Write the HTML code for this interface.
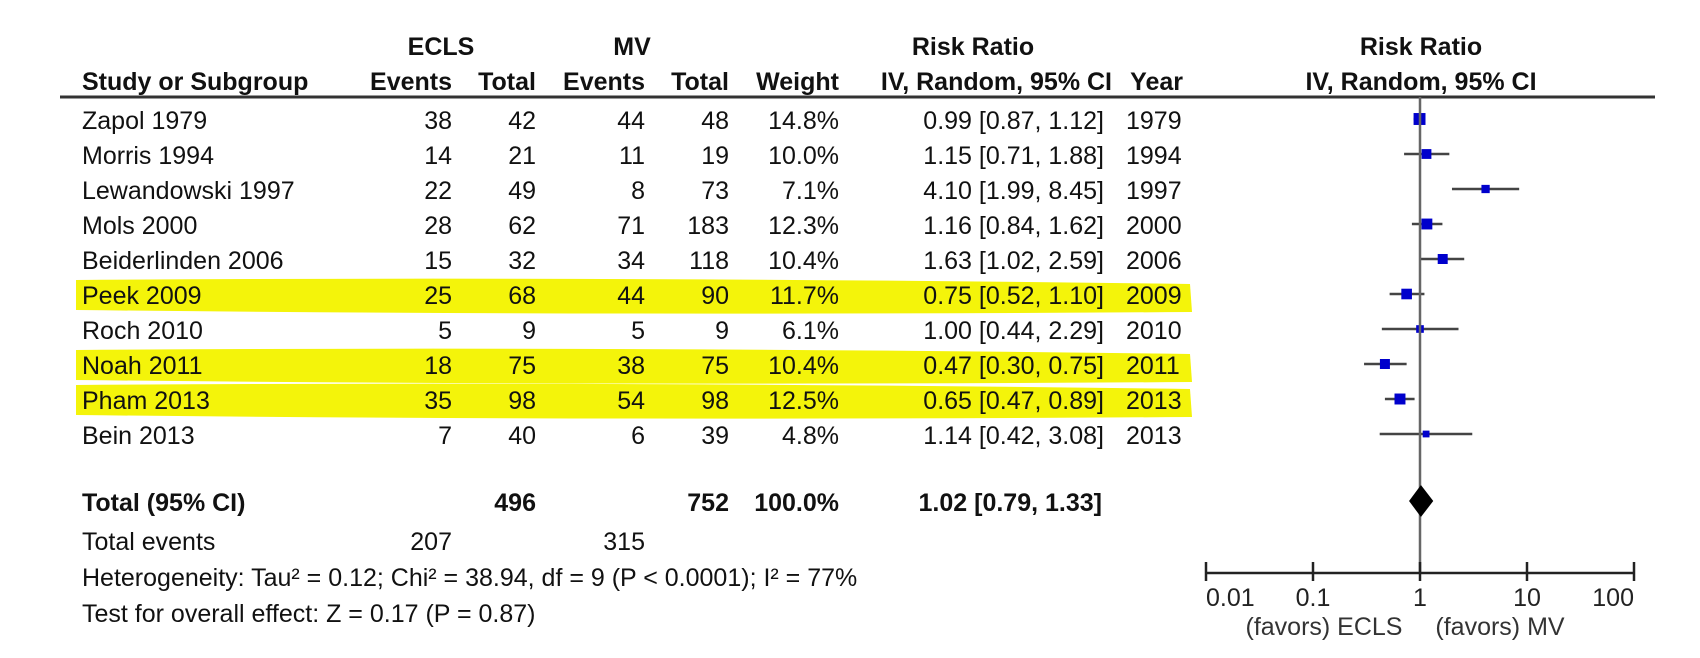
<!DOCTYPE html>
<html><head><meta charset="utf-8"><style>
html,body{margin:0;padding:0;background:#fff;}
svg{display:block;font-family:"Liberation Sans",Arial,sans-serif;}
</style></head><body>
<svg id="plot" width="1700" height="658" viewBox="0 0 1700 658" xmlns="http://www.w3.org/2000/svg">
<rect width="1700" height="658" fill="#fff"/>
<g id="hl"></g>
<g font-size="25" font-weight="bold" fill="#111">
<text x="441" y="55" text-anchor="middle">ECLS</text>
<text x="632" y="55" text-anchor="middle">MV</text>
<text x="973" y="55" text-anchor="middle">Risk Ratio</text>
<text x="1421" y="55" text-anchor="middle">Risk Ratio</text>
<text x="82" y="90">Study or Subgroup</text>
<text x="452" y="90" text-anchor="end">Events</text>
<text x="536" y="90" text-anchor="end">Total</text>
<text x="645" y="90" text-anchor="end">Events</text>
<text x="729" y="90" text-anchor="end">Total</text>
<text x="839" y="90" text-anchor="end">Weight</text>
<text x="1112" y="90" text-anchor="end">IV, Random, 95% CI</text>
<text x="1183" y="90" text-anchor="end">Year</text>
<text x="1421" y="90" text-anchor="middle">IV, Random, 95% CI</text>
</g>
<line x1="60" y1="97" x2="1655" y2="97" stroke="#333" stroke-width="3"/>
<g id="rows" font-size="25" fill="#111"></g>
<g id="marks"></g>
<g font-size="25" fill="#111">
<text x="82" y="511" font-weight="bold">Total (95% CI)</text>
<text x="536" y="511" font-weight="bold" text-anchor="end">496</text>
<text x="729" y="511" font-weight="bold" text-anchor="end">752</text>
<text x="839" y="511" font-weight="bold" text-anchor="end">100.0%</text>
<text x="1102" y="511" font-weight="bold" text-anchor="end">1.02 [0.79, 1.33]</text>
<text x="82" y="550">Total events</text>
<text x="452" y="550" text-anchor="end">207</text>
<text x="645" y="550" text-anchor="end">315</text>
<text x="82" y="586">Heterogeneity: Tau² = 0.12; Chi² = 38.94, df = 9 (P &lt; 0.0001); I² = 77%</text>
<text x="82" y="622">Test for overall effect: Z = 0.17 (P = 0.87)</text>
<text x="1324" y="635" text-anchor="middle" fill="#333">(favors) ECLS</text>
<text x="1500" y="635" text-anchor="middle" fill="#333">(favors) MV</text>
</g>
<g id="axis" font-size="25" fill="#111"></g>
</svg>
<script>
const studies = ["Zapol 1979","Morris 1994","Lewandowski 1997","Mols 2000","Beiderlinden 2006","Peek 2009","Roch 2010","Noah 2011","Pham 2013","Bein 2013"];
const eclsEvents = [38,14,22,28,15,25,5,18,35,7];
const eclsTotal = [42,21,49,62,32,68,9,75,98,40];
const mvEvents = [44,11,8,71,34,44,5,38,54,6];
const mvTotal = [48,19,73,183,118,90,9,75,98,39];
const weights = [14.8,10.0,7.1,12.3,10.4,11.7,6.1,10.4,12.5,4.8];
const rr = [0.99,1.15,4.10,1.16,1.63,0.75,1.00,0.47,0.65,1.14];
const ciLow = [0.87,0.71,1.99,0.84,1.02,0.52,0.44,0.30,0.47,0.42];
const ciHigh = [1.12,1.88,8.45,1.62,2.59,1.10,2.29,0.75,0.89,3.08];
const years = [1979,1994,1997,2000,2006,2009,2010,2011,2013,2013];
const highlighted = [false,false,false,false,false,true,false,true,true,false];
const pooled = [1.02,0.79,1.33];
const ticks = [0.01,0.1,1,10,100];
const tickLabels = ["0.01","0.1","1","10","100"];

const NS="http://www.w3.org/2000/svg";
const xScale = v => 1420 + Math.log10(v)*107;
const rowBase = i => 129 + i*35;
function mk(tag, attrs, parent){const e=document.createElementNS(NS,tag);for(const k in attrs)e.setAttribute(k,attrs[k]);parent.appendChild(e);return e;}
const rowsG=document.getElementById('rows'), marksG=document.getElementById('marks'), hlG=document.getElementById('hl'), axisG=document.getElementById('axis');
const fmt2 = v => v.toFixed(2);
studies.forEach((s,i)=>{
  const b=rowBase(i);
  if(highlighted[i]){
    const p=mk('path',{d:`M76 ${b-24} Q600 ${b-28} 1190 ${b-20} L1192 ${b+8} Q600 ${b+12} 76 ${b+6} Z`,fill:'#f4f40a'},hlG);
    
    
  }
  const g=mk('g',{},rowsG);
  
  
  const cells=[[82,s,'start'],[452,eclsEvents[i],'end'],[536,eclsTotal[i],'end'],[645,mvEvents[i],'end'],[729,mvTotal[i],'end'],[839,weights[i].toFixed(1)+'%','end'],[1104,`${fmt2(rr[i])} [${fmt2(ciLow[i])}, ${fmt2(ciHigh[i])}]`,'end'],[1126,years[i],'start']];
  cells.forEach(c=>{const t=mk('text',{x:c[0],y:b,'text-anchor':c[2]},g);t.textContent=c[1];
    
    });
  const cy=b-10;
  const ln=mk('line',{x1:xScale(ciLow[i]),x2:xScale(ciHigh[i]),y1:cy,y2:cy,stroke:'#444','stroke-width':2.5},marksG);
  
  
  const sz=3.1*Math.sqrt(weights[i]);
  const sq=mk('rect',{x:xScale(rr[i])-sz/2,y:cy-sz/2,width:sz,height:sz,fill:'#0000cc'},marksG);
  
  
});
// null line
const nl=mk('line',{x1:xScale(1),x2:xScale(1),y1:97,y2:573,stroke:'#666','stroke-width':2.5},axisG);


const dcx=xScale(pooled[0]), dcy=501;
const dm=mk('polygon',{points:`${xScale(pooled[1])},${dcy} ${dcx},${dcy-16} ${xScale(pooled[2])},${dcy} ${dcx},${dcy+16}`,fill:'#000'},axisG);


const ax=mk('line',{x1:xScale(ticks[0]),x2:xScale(ticks[ticks.length-1]),y1:573,y2:573,stroke:'#222','stroke-width':2.5},axisG);


ticks.forEach((t,i)=>{
  const x=xScale(t);
  const tk=mk('line',{x1:x,x2:x,y1:562,y2:581,stroke:'#222','stroke-width':2.5},axisG);
  
  
  const lb=mk('text',{x:x,y:606,'text-anchor':i===0?'start':(i===ticks.length-1?'end':'middle'),fill:'#222'},axisG);
  lb.textContent=tickLabels[i];
  
  
});
</script>
</body></html>
